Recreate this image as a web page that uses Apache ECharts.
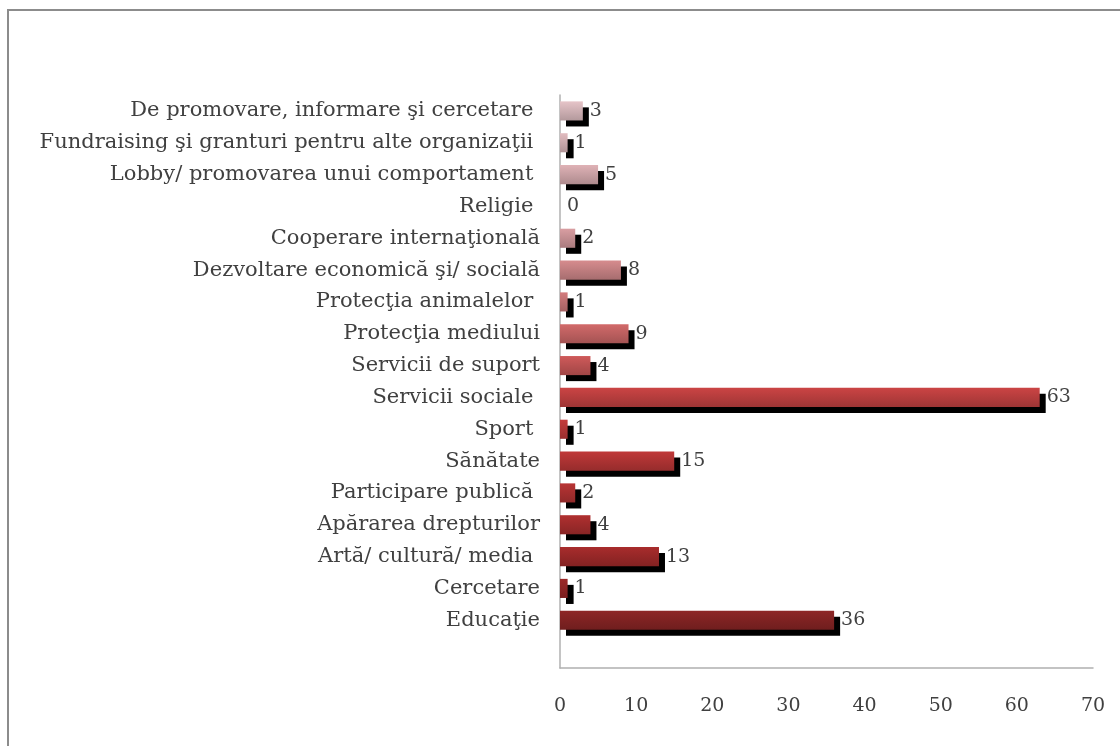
<!DOCTYPE html>
<html>
<head>
<meta charset="utf-8">
<script src="https://cdn.jsdelivr.net/npm/echarts@6/dist/echarts.min.js"></script>
<style>
  html, body { margin: 0; padding: 0; background: #fff; }
  #chart { width: 1120px; height: 746px; }
</style>
</head>
<body>
<div id="chart"></div>
<script>
// categories, top to bottom (last one is the empty slot Excel leaves at the bottom)
var categories = [
  'De promovare, informare şi cercetare ',
  'Fundraising şi granturi pentru alte organizaţii ',
  'Lobby/ promovarea unui comportament ',
  'Religie ',
  'Cooperare internaţională',
  'Dezvoltare economică şi/ socială',
  'Protecţia animalelor ',
  'Protecţia mediului',
  'Servicii de suport',
  'Servicii sociale ',
  'Sport ',
  'Sănătate',
  'Participare publică ',
  'Apărarea drepturilor',
  'Artă/ cultură/ media ',
  'Cercetare',
  'Educaţie',
  ''
];
var values = [3, 1, 5, 0, 2, 8, 1, 9, 4, 63, 1, 15, 2, 4, 13, 1, 36, null];
var barColors = [
  '#e6c4c8', '#e2bcc0', '#dfb2b6', '#dcaaae', '#d99ea2', '#d68c8e',
  '#d47c7e', '#d26a6a', '#cf5a5a', '#cb4444', '#c53c3c', '#c03838',
  '#b83434', '#b03030', '#a82c2c', '#9c2828', '#8e2626', '#8e2626'
];
var xTicks = [0, 10, 20, 30, 40, 50, 60, 70];

function darken(hex, f) {
  var n = parseInt(hex.slice(1), 16);
  var r = Math.round(((n >> 16) & 255) * f);
  var g = Math.round(((n >> 8) & 255) * f);
  var b = Math.round((n & 255) * f);
  return 'rgb(' + r + ',' + g + ',' + b + ')';
}

var chartDom = document.getElementById('chart');
var myChart = echarts.init(chartDom);

var data = values.map(function (v, i) {
  return {
    value: v,
    itemStyle: {
      color: new echarts.graphic.LinearGradient(0, 0, 0, 1, [
        { offset: 0, color: barColors[i] },
        { offset: 1, color: darken(barColors[i], 0.78) }
      ])
    }
  };
});

var option = {
  backgroundColor: '#ffffff',
  animation: false,
  graphic: [
    {
      type: 'rect',
      shape: { x: 8, y: 10, width: 1200, height: 800 },
      style: { fill: 'none', stroke: '#8c8c8c', lineWidth: 2 },
      z: -1
    }
  ],
  grid: { left: 560, right: 27, top: 95, bottom: 78 },
  xAxis: {
    type: 'value',
    min: xTicks[0],
    max: xTicks[xTicks.length - 1],
    interval: 10,
    splitLine: { show: false },
    axisLine: { show: true, lineStyle: { color: '#b0b0b0', width: 1.5 } },
    axisTick: { show: false },
    axisLabel: {
      margin: 29,
      color: '#404040',
      fontFamily: 'DejaVu Serif',
      fontSize: 19
    }
  },
  yAxis: {
    type: 'category',
    inverse: true,
    data: categories,
    axisLine: { show: true, lineStyle: { color: '#b0b0b0', width: 1.5 } },
    axisTick: { show: false },
    axisLabel: {
      margin: 20,
      color: '#404040',
      fontFamily: 'DejaVu Serif',
      fontSize: 21
    }
  },
  series: [
    {
      type: 'bar',
      data: data,
      barWidth: '60%',
      itemStyle: {
        shadowColor: '#000000',
        shadowBlur: 0,
        shadowOffsetX: 6,
        shadowOffsetY: 6
      },
      label: {
        show: true,
        position: 'right',
        distance: 7,
        color: '#404040',
        fontFamily: 'DejaVu Serif',
        fontSize: 19
      }
    }
  ]
};

option && myChart.setOption(option);
</script>
</body>
</html>
